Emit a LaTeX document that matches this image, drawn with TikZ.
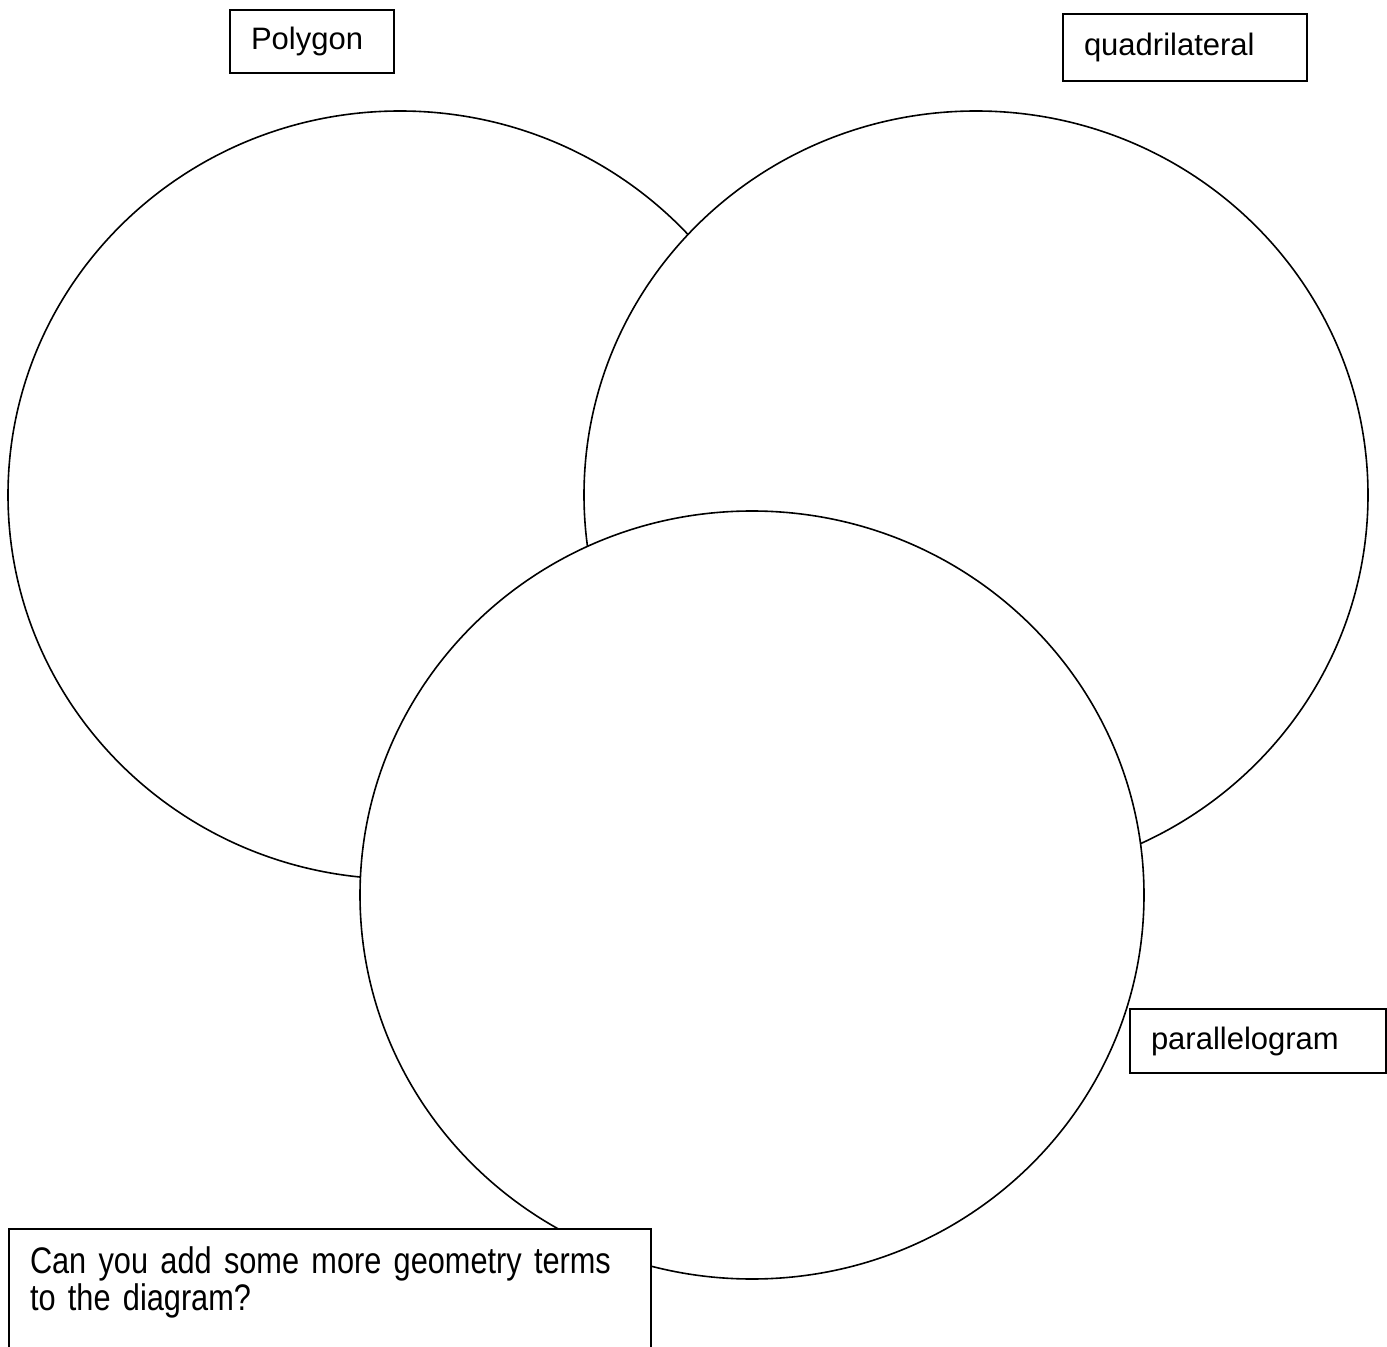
\documentclass[tikz,border=0pt]{standalone}
\usepackage{fontspec}
\setmainfont{Liberation Sans}
\newfontfamily\narrowsans[FakeStretch=0.83, WordSpace=0.85]{Liberation Sans}
\usetikzlibrary{shapes.geometric}
\tikzstyle{venncircle}=
[
	ellipse
	, inner sep=0pt
	, minimum width=392pt
	, minimum height=384pt
	, draw=black
	, line width=0.8pt
	, fill=white
]
\tikzstyle{labelbox}=
[
	rectangle
	, anchor=north west
	, align=left
	, inner xsep=10.5pt
	, draw=black
	, line width=1pt
	, fill=white
	, font=\fontsize{15.5pt}{16pt}\selectfont
]

\begin{document}
\begin{tikzpicture}[x=0.5pt, y=-0.5pt]

\useasboundingbox (0,0) rectangle (1387,1347);

% the three sets
\node(polycircle)[venncircle] at (400,495){};
\node(quadcircle)[venncircle] at (976,495){};
\node(paracircle)[venncircle] at (752,895){};

% set names
\node(polygon)[labelbox, text width=61pt, minimum height=31.5pt] at (229,9){Polygon};
\node(quad)[labelbox, text width=101pt, minimum height=33.5pt] at (1062,13){quadrilateral};
\node(para)[labelbox, text width=107pt, minimum height=32pt] at (1129,1008){parallelogram};

\node(question)[labelbox, text width=300pt, inner ysep=9pt, font=\narrowsans\fontsize{18.5pt}{15.5pt}\selectfont] at (8,1228){Can you add some more geometry terms\\to the diagram?\\\strut};

\end{tikzpicture}
\end{document}
